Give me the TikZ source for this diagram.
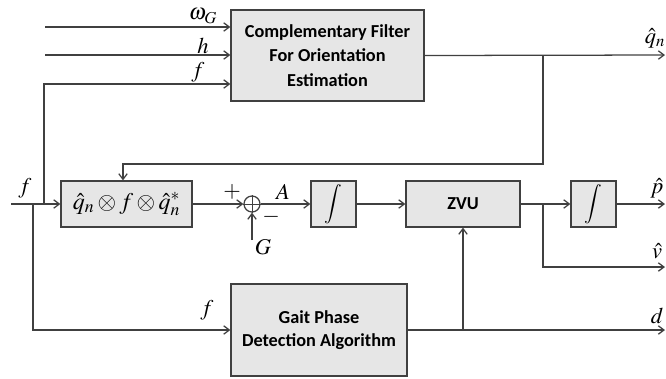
\documentclass[tikz,border=0pt]{standalone}
\usepackage{amsmath}
\usepackage{amssymb}
\usepackage{mathptmx}
\usepackage{fontspec}
\setsansfont{Carlito}
\usepackage{tikz}
\usetikzlibrary{arrows.meta}

\definecolor{linegray}{HTML}{404040}
\definecolor{boxgray}{HTML}{E6E6E6}

\begin{document}
\begin{tikzpicture}[x=0.025cm,y=-0.025cm]
	\useasboundingbox (0,0) rectangle (666,378);

	\begin{scope}[every node/.style={rectangle,draw=linegray,line width=0.9pt,fill=boxgray,
	              inner sep=0pt,align=center,font=\sffamily\bfseries\fontsize{13}{17.5}\selectfont}]
	    \node[minimum width=193*0.025cm,minimum height=91*0.025cm] (cf) at (327.5,55.5) {Complementary Filter\\For Orientation\\Estimation};
	    \node[minimum width=131*0.025cm,minimum height=46*0.025cm,font=\fontsize{17}{20}\selectfont] (rot) at (126.5,204) {$\hat{q}_n\otimes f\otimes\hat{q}_n^{*}$};
	    \node[minimum width=45*0.025cm,minimum height=46*0.025cm,font=\fontsize{14}{17}\selectfont] (int1) at (333.5,204) {$\displaystyle\int$};
	    \node[minimum width=114*0.025cm,minimum height=46*0.025cm] (zvu) at (463,204) {ZVU};
	    \node[minimum width=45*0.025cm,minimum height=46*0.025cm,font=\fontsize{14}{17}\selectfont] (int2) at (593.5,204) {$\displaystyle\int$};
	    \node[minimum width=176*0.025cm,minimum height=92*0.025cm,font=\sffamily\bfseries\fontsize{13}{16}\selectfont] (gait) at (319,330) {Gait Phase\\Detection Algorithm};
	    \node[circle,fill=none,minimum size=16*0.025cm] (sum) at (252,204) {};
	\end{scope}
	\draw[linegray,line width=0.7pt] (sum.north) -- (sum.south) (sum.west) -- (sum.east);

	% ends of the free connectors
	\coordinate (win) at (45,27);
	\coordinate (hin) at (45,55);
	\coordinate (fin) at (11,204);
	\coordinate (ftop) at (44,84);
	\coordinate (j1) at (44,204);
	\coordinate (j2) at (33,204);
	\coordinate (fb) at (123,164);
	\coordinate (qbr) at (543,55);
	\coordinate (vbr) at (543,204);
	\coordinate (dbr) at (463,330);
	\coordinate (gin) at (252,240);
	\coordinate (qout) at (665,55);
	\coordinate (pout) at (665,204);
	\coordinate (vout) at (665,267);
	\coordinate (dout) at (665,330);

	\begin{scope}[>={Straight Barb[length=4pt,width=6pt]},
	              every path/.style={draw=linegray,line width=0.9pt}]
	    \draw[->] (win) -- (win -| cf.west);
	    \draw[->] (hin) -- (hin -| cf.west);
	    \draw[->] (j1) |- (ftop -| cf.west);
	    \draw[->] (fin) -- (rot.west);
	    \draw[->] (j2) |- (gait.west);
	    \draw[->] (cf.east) -- (qout);
	    \draw[->] (qbr) |- (fb) -- (fb |- rot.north);
	    \draw[->] (rot.east) -- (sum.west);
	    \draw[->] (gin) -- (sum.south);
	    \draw[->] (sum.east) -- (int1.west);
	    \draw[->] (int1.east) -- (zvu.west);
	    \draw[->] (zvu.east) -- (int2.west);
	    \draw[->] (int2.east) -- (pout);
	    \draw[->] (vbr) |- (vout);
	    \draw[->] (gait.east) -- (dout);
	    \draw[->] (dbr) -- (zvu.south);
	\end{scope}

	\begin{scope}[every node/.style={inner sep=0pt,font=\fontsize{16}{19}\selectfont}]
	    \node (wlab) at (203,16) {$\omega_G$};
	    \node (hlab) at (203,46) {$h$};
	    \node (flab1) at (198,72) {$f$};
	    \node (flab2) at (25,188) {$f$};
	    \node (flab3) at (207,310) {$f$};
	    \node (plus) at (232,192) {$+$};
	    \node (minus) at (271,217) {$-$};
	    \node (glab) at (263,247) {$G$};
	    \node (alab) at (283,192) {$A$};
	    \node (qlab) at (655,38) {$\hat{q}_n$};
	    \node (plab) at (657,188) {$\hat{p}$};
	    \node (vlab) at (657,251) {$\hat{v}$};
	    \node (dlab) at (657,316) {$d$};
	\end{scope}
\end{tikzpicture}
\end{document}
